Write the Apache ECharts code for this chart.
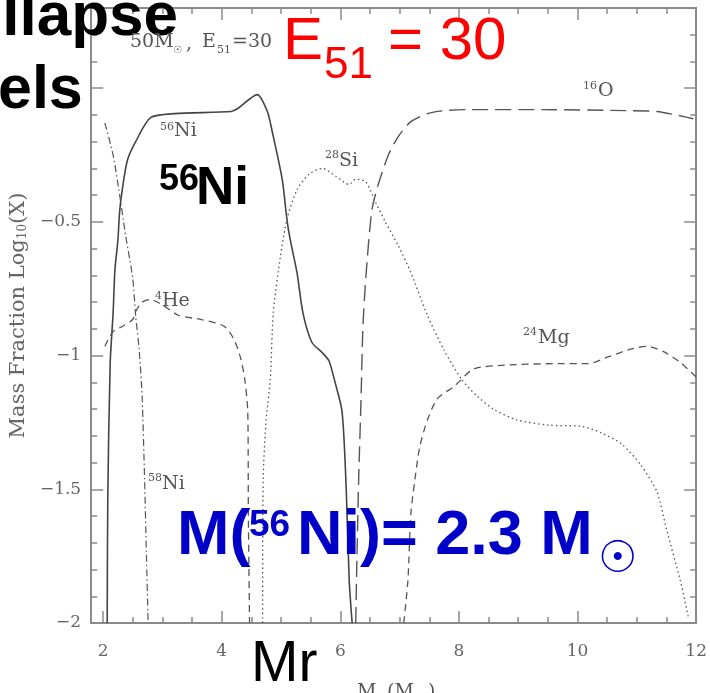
<!DOCTYPE html>
<html>
<head>
<meta charset="utf-8">
<script src="https://cdn.jsdelivr.net/npm/echarts@6/dist/echarts.min.js"></script>
<style>
html,body{margin:0;padding:0;background:#fff;}
#chart{width:710px;height:693px;}
</style>
</head>
<body>
<div id="chart"></div>
<script>
// ---- tick values ----
const xMajorTicks = [2, 4, 6, 8, 10, 12];
const xMinorTicks = [2.5, 3, 3.5, 4.5, 5, 5.5, 6.5, 7, 7.5, 8.5, 9, 9.5, 10.5, 11, 11.5];
const yMajorTicks = [-2, -1.5, -1, -0.5, 0];
const yMinorTicks = [-1.9, -1.8, -1.7, -1.6, -1.4, -1.3, -1.2, -1.1, -0.9, -0.8, -0.7, -0.6, -0.4, -0.3, -0.2, -0.1, 0.1, 0.2];
const yTickLabels = [-2, -1.5, -1, -0.5];

// ---- series values (Mr in Msun, log10 X) ----
const ni56X = [2.07, 2.08, 2.12, 2.17, 2.20, 2.25, 2.28, 2.33, 2.41, 2.55, 2.80, 3.21, 4.16, 4.27, 4.60, 4.77, 4.85, 5.02, 5.10, 5.15, 5.27, 5.37, 5.52, 5.70, 5.81, 5.90, 6.03, 6.10, 6.15, 6.20];
const ni56Y = [-2.0, -1.53, -1.03, -0.84, -0.68, -0.57, -0.46, -0.37, -0.27, -0.20, -0.11, -0.095, -0.087, -0.076, -0.024, -0.087, -0.16, -0.34, -0.49, -0.56, -0.69, -0.84, -0.95, -0.99, -1.02, -1.09, -1.21, -1.50, -1.84, -2.0];

const ni58X = [2.03, 2.17, 2.28, 2.38, 2.50, 2.55, 2.61, 2.66, 2.70, 2.73, 2.76];
const ni58Y = [-0.13, -0.25, -0.40, -0.55, -0.71, -0.85, -0.98, -1.16, -1.46, -1.73, -2.0];

const he4X = [2.03, 2.17, 2.33, 2.50, 2.55, 2.66, 2.80, 3.03, 3.28, 3.66, 4.04, 4.21, 4.32, 4.39, 4.44, 4.45, 4.47];
const he4Y = [-0.965, -0.91, -0.89, -0.865, -0.835, -0.80, -0.79, -0.815, -0.85, -0.865, -0.89, -0.94, -1.01, -1.09, -1.21, -1.59, -2.0];

const si28X = [4.69, 4.70, 4.75, 4.82, 4.87, 4.99, 5.10, 5.27, 5.48, 5.70, 5.93, 6.15, 6.26, 6.43, 6.59, 6.76, 6.98, 7.19, 7.47, 7.75, 8.05, 8.30, 8.58, 8.97, 9.51, 10.08, 10.41, 10.74, 11.07, 11.34, 11.50, 11.73, 11.87];
const si28Y = [-2.0, -1.46, -1.24, -1.09, -0.84, -0.63, -0.49, -0.38, -0.32, -0.30, -0.33, -0.36, -0.34, -0.35, -0.425, -0.50, -0.59, -0.69, -0.85, -0.98, -1.09, -1.15, -1.20, -1.24, -1.26, -1.265, -1.29, -1.33, -1.41, -1.51, -1.65, -1.84, -1.98];

const o16X = [6.26, 6.28, 6.31, 6.35, 6.38, 6.43, 6.53, 6.64, 6.81, 6.98, 7.19, 7.47, 7.75, 8.19, 9.41, 10.84, 11.34, 11.95];
const o16Y = [-2.0, -1.76, -1.46, -1.16, -0.90, -0.71, -0.46, -0.36, -0.25, -0.18, -0.125, -0.095, -0.084, -0.08, -0.08, -0.084, -0.087, -0.114];

const mg24X = [7.07, 7.14, 7.19, 7.26, 7.34, 7.47, 7.64, 7.92, 8.25, 8.85, 9.68, 10.18, 10.51, 10.91, 11.17, 11.45, 11.73, 12.0];
const mg24Y = [-2.0, -1.84, -1.59, -1.46, -1.34, -1.24, -1.16, -1.115, -1.05, -1.035, -1.03, -1.03, -1.005, -0.975, -0.965, -0.985, -1.025, -1.08];

function zip(xs, ys) { return xs.map((x, i) => [x, ys[i]]); }

const chart = echarts.init(document.getElementById('chart'), null, {renderer: 'canvas'});

const axisCol = '#8a8a8a';
const serif = 'DejaVu Serif';
const minusFmt = v => String(v).replace('-', '\u2212');

function xAx(pos, ticks, len, labels) {
  return {
    type: 'value', min: 1.8, max: 12, position: pos, gridIndex: 0,
    axisLine: {onZero: false, lineStyle: {color: axisCol, width: 2}},
    splitLine: {show: false},
    axisTick: {show: true, inside: true, length: len, customValues: ticks, lineStyle: {color: axisCol, width: 1.5}},
    axisLabel: labels ? {show: true, customValues: labels, margin: 20, color: '#666', fontFamily: serif, fontSize: 17, formatter: minusFmt} : {show: false}
  };
}
function yAx(pos, ticks, len, labels, withName) {
  const a = {
    type: 'value', min: -2, max: 0.3, position: pos, gridIndex: 0,
    axisLine: {onZero: false, lineStyle: {color: axisCol, width: 2}},
    splitLine: {show: false},
    axisTick: {show: true, inside: true, length: len, customValues: ticks, lineStyle: {color: axisCol, width: 1.5}},
    axisLabel: labels ? {show: true, customValues: labels, margin: 10, color: '#666', fontFamily: serif, fontSize: 17, formatter: minusFmt} : {show: false}
  };
  if (withName) {
    a.name = '{a|Mass Fraction Log}{s|10}{a|(X)}';
    a.nameLocation = 'middle';
    a.nameGap = 52;
    a.nameTextStyle = {
      rich: {
        a: {fontFamily: serif, fontSize: 21, color: '#666'},
        s: {fontFamily: serif, fontSize: 12, color: '#666', verticalAlign: 'bottom', padding: [9, 0, 0, 0]}
      }
    };
  }
  return a;
}

function line(name, data, type, width, color) {
  return {
    name: name, type: 'line', data: data, xAxisIndex: 0, yAxisIndex: 0,
    showSymbol: false, symbol: 'none', smooth: 0.25, clip: true,
    lineStyle: {color: color || '#555', width: width || 1.3, type: type},
    z: 3
  };
}

// text helper
function T(text, x, cy, size, opts) {
  opts = opts || {};
  return {
    type: 'text', x: x, y: cy, z: 100,
    style: {
      text: text, x: 0, y: 0,
      fontFamily: opts.family || 'Liberation Sans, Arial, sans-serif',
      fontSize: size, fontWeight: opts.weight || 'normal',
      fill: opts.color || '#000',
      align: opts.align || 'left', verticalAlign: 'middle'
    }
  };
}
const gray = '#555';
const g = [];
// slide title fragments (black, bold)
g.push(T('llapse', 178, 18, 62, {weight: 'bold', align: 'right'}));
g.push(T('els', -2, 91, 61, {weight: 'bold'}));
// plot caption
g.push(T('50M', 130, 42, 19, {family: serif, color: gray}));
g.push(T('\u2609', 173, 50, 10, {family: 'DejaVu Sans', color: gray}));
g.push(T(',', 186, 44, 19, {family: serif, color: gray}));
g.push(T('E', 202, 42, 19, {family: serif, color: gray}));
g.push(T('51', 217, 50, 11, {family: serif, color: gray}));
g.push(T('=30', 232, 42, 19, {family: serif, color: gray}));
// red energy
g.push(T('E', 283, 42, 60, {color: '#ff0000'}));
g.push(T('51', 324, 66, 44, {color: '#ff0000'}));
g.push(T('= 30', 388, 42, 60, {color: '#ff0000'}));
// species labels (gray serif)
g.push(T('56', 160, 127, 11, {family: serif, color: gray}));
g.push(T('Ni', 174, 131, 19, {family: serif, color: gray}));
g.push(T('4', 155, 296, 11, {family: serif, color: gray}));
g.push(T('He', 162, 301, 19, {family: serif, color: gray}));
g.push(T('58', 148, 478, 11, {family: serif, color: gray}));
g.push(T('Ni', 162, 484, 19, {family: serif, color: gray}));
g.push(T('28', 325, 155, 11, {family: serif, color: gray}));
g.push(T('Si', 339, 161, 19, {family: serif, color: gray}));
g.push(T('16', 583, 86, 11, {family: serif, color: gray}));
g.push(T('O', 598, 91, 19, {family: serif, color: gray}));
g.push(T('24', 523, 332, 11, {family: serif, color: gray}));
g.push(T('Mg', 538, 338, 19, {family: serif, color: gray}));
// black 56Ni
g.push(T('56', 159, 180, 36, {weight: 'bold'}));
g.push(T('Ni', 196, 189, 53, {weight: 'bold'}));
// blue mass
const blue = '#0000c8';
g.push(T('M(', 177, 537, 63, {weight: 'bold', color: blue}));
g.push(T('56', 249, 526, 37, {weight: 'bold', color: blue}));
g.push(T('Ni)= 2.3 M', 297, 537, 63, {weight: 'bold', color: blue}));
g.push(T('\u2609', 598, 561, 44, {family: 'DejaVu Sans', color: blue}));
// Mr
g.push(T('Mr', 251, 665, 57, {}));
// axis name (cut off at bottom)
g.push(T('M', 357, 692, 19, {family: serif, color: gray}));
g.push(T('r', 375, 698, 11, {family: serif, color: gray}));
g.push(T('(M', 387, 692, 19, {family: serif, color: gray}));
g.push(T('\u2609', 418, 699, 10, {family: 'DejaVu Sans', color: gray}));
g.push(T(')', 428, 692, 19, {family: serif, color: gray}));

const option = {
  animation: false,
  backgroundColor: '#fff',
  grid: {left: 88, right: 7, top: 8, bottom: 70, containLabel: false},
  xAxis: [
    xAx('bottom', xMajorTicks, 12, xMajorTicks),
    xAx('bottom', xMinorTicks, 6, null),
    xAx('top', xMajorTicks, 12, null),
    xAx('top', xMinorTicks, 6, null)
  ],
  yAxis: [
    yAx('left', yMajorTicks, 12, yTickLabels, true),
    yAx('left', yMinorTicks, 6, null, false),
    yAx('right', yMajorTicks, 12, null, false),
    yAx('right', yMinorTicks, 6, null, false)
  ],
  series: [
    line('56Ni', zip(ni56X, ni56Y), 'solid', 1.6, '#444'),
    line('58Ni', zip(ni58X, ni58Y), [7, 3, 1.5, 3], 1.2),
    line('4He', zip(he4X, he4Y), [7, 5], 1.3),
    line('28Si', zip(si28X, si28Y), [1.5, 3], 1.3),
    line('16O', zip(o16X, o16Y), [16, 7], 1.4),
    line('24Mg', zip(mg24X, mg24Y), [7, 5], 1.3)
  ],
  graphic: g
};
chart.setOption(option);
</script>
</body>
</html>
